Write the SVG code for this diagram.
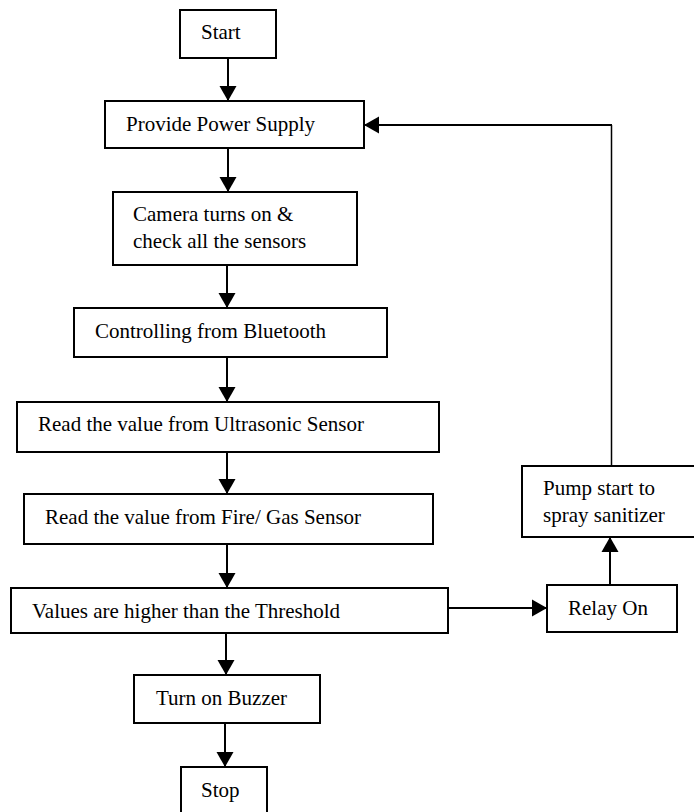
<svg xmlns="http://www.w3.org/2000/svg" width="694" height="812" viewBox="0 0 694 812">
<style>
rect{fill:#fff;stroke:#000;stroke-width:2}
text{font-family:"Liberation Serif","Times New Roman",serif;font-size:21px;fill:#000}
.c{stroke:#000;stroke-width:2;fill:none}
</style>
<defs>
<marker id="ah" markerUnits="userSpaceOnUse" markerWidth="16" markerHeight="18" refX="15" refY="9" orient="auto">
<path d="M0,0.5 L15,9 L0,17.5 z" fill="#000"/>
</marker>
</defs>
<rect x="0" y="0" width="694" height="812" style="stroke:none"/>
<g id="connectors">
<line class="c" x1="228" y1="58" x2="228" y2="101" marker-end="url(#ah)"/>
<line class="c" x1="228" y1="148" x2="228" y2="192" marker-end="url(#ah)"/>
<line class="c" x1="227" y1="265" x2="227" y2="308" marker-end="url(#ah)"/>
<line class="c" x1="227" y1="357" x2="227" y2="402" marker-end="url(#ah)"/>
<line class="c" x1="227" y1="452" x2="227" y2="494" marker-end="url(#ah)"/>
<line class="c" x1="227" y1="544" x2="227" y2="588" marker-end="url(#ah)"/>
<line class="c" x1="226" y1="633" x2="226" y2="675" marker-end="url(#ah)"/>
<line class="c" x1="225" y1="723" x2="225" y2="767" marker-end="url(#ah)"/>
<line class="c" x1="448" y1="608" x2="547" y2="608" marker-end="url(#ah)"/>
<line class="c" x1="610" y1="585" x2="610" y2="537" marker-end="url(#ah)"/>
<line class="c" x1="611.5" y1="466" x2="611.5" y2="125" style="stroke-width:1.5"/>
<line class="c" x1="612" y1="125" x2="364" y2="125" marker-end="url(#ah)"/>
</g>
<g id="start"><rect x="180" y="10" width="96" height="48"/><text x="201" y="39">Start</text></g>
<g id="power"><rect x="105" y="101" width="259" height="47"/><text x="126" y="131">Provide Power Supply</text></g>
<g id="camera"><rect x="113" y="192" width="244" height="73"/><text x="133" y="221">Camera turns on &amp;</text><text x="133" y="248">check all the sensors</text></g>
<g id="bluetooth"><rect x="74" y="308" width="313" height="49"/><text x="95" y="338">Controlling from Bluetooth</text></g>
<g id="ultrasonic"><rect x="17" y="402" width="422" height="50"/><text x="38" y="431">Read the value from Ultrasonic Sensor</text></g>
<g id="firegas"><rect x="24" y="494" width="409" height="50"/><text x="45" y="524">Read the value from Fire/ Gas Sensor</text></g>
<g id="threshold"><rect x="11" y="588" width="437" height="45"/><text x="32" y="618">Values are higher than the Threshold</text></g>
<g id="buzzer"><rect x="134" y="675" width="186" height="48"/><text x="156" y="705">Turn on Buzzer</text></g>
<g id="stop"><rect x="181" y="767" width="86" height="60"/><text x="201" y="797">Stop</text></g>
<g id="relay"><rect x="547" y="585" width="130" height="47"/><text x="568" y="615">Relay On</text></g>
<g id="pump"><rect x="522" y="466" width="190" height="71"/><text x="543" y="495">Pump start to</text><text x="543" y="522">spray sanitizer</text></g>
</svg>
